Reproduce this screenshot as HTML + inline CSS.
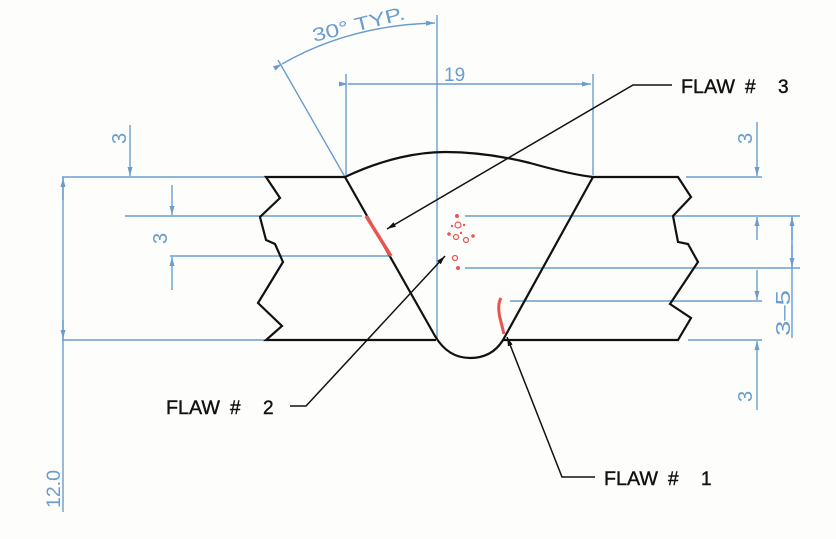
<!DOCTYPE html>
<html><head><meta charset="utf-8"><style>
html,body{margin:0;padding:0;background:#fdfdfb;}
svg{display:block}
</style></head><body>
<svg width="836" height="539" viewBox="0 0 836 539" xmlns="http://www.w3.org/2000/svg">
<defs>
<marker id="ab" markerWidth="10" markerHeight="6" refX="9" refY="3" orient="auto" markerUnits="userSpaceOnUse"><path d="M0,0.5 L9,3 L0,5.5 z" fill="#6a9dcf"/></marker>
<marker id="ak" markerWidth="10" markerHeight="6" refX="9" refY="3" orient="auto" markerUnits="userSpaceOnUse"><path d="M0,0.5 L9,3 L0,5.5 z" fill="#111"/></marker>
</defs>
<g stroke="#6a9dcf" stroke-width="1.4" fill="none">
<line x1="62" y1="177" x2="265" y2="177"/>
<line x1="686" y1="177" x2="762" y2="177"/>
<line x1="125" y1="216" x2="362" y2="216"/>
<line x1="465" y1="216" x2="800" y2="216"/>
<line x1="170" y1="256" x2="390" y2="256"/>
<line x1="465" y1="268" x2="800" y2="268"/>
<line x1="510" y1="301" x2="762" y2="301"/>
<line x1="62" y1="340" x2="265" y2="340"/>
<line x1="688" y1="340" x2="762" y2="340"/>
<line x1="437" y1="15" x2="437" y2="340"/>
<line x1="346" y1="74" x2="346" y2="175"/>
<line x1="593" y1="74" x2="593" y2="175"/>
<line x1="348" y1="84" x2="591" y2="84" marker-start="url(#ab)" marker-end="url(#ab)"/>
<line x1="345" y1="177" x2="278" y2="60"/>
<path d="M282,64 Q350,25 435,23" marker-start="url(#ab)" marker-end="url(#ab)"/>
<line x1="130" y1="125" x2="130" y2="176" marker-end="url(#ab)"/>
<line x1="172" y1="185" x2="172" y2="215" marker-end="url(#ab)"/>
<line x1="172" y1="290" x2="172" y2="257" marker-end="url(#ab)"/>
<line x1="63" y1="177" x2="63" y2="512"/>
<line x1="63" y1="200" x2="63" y2="178" marker-end="url(#ab)"/>
<line x1="63" y1="320" x2="63" y2="339" marker-end="url(#ab)"/>
<line x1="757" y1="122" x2="757" y2="176" marker-end="url(#ab)"/>
<line x1="757" y1="240" x2="757" y2="217" marker-end="url(#ab)"/>
<line x1="757" y1="270" x2="757" y2="300" marker-end="url(#ab)"/>
<line x1="757" y1="410" x2="757" y2="341" marker-end="url(#ab)"/>
<line x1="792" y1="216" x2="792" y2="338"/>
<line x1="792" y1="240" x2="792" y2="217" marker-end="url(#ab)"/>
<line x1="792" y1="245" x2="792" y2="267" marker-end="url(#ab)"/>
</g>
<g fill="#6a9dcf" font-family="Liberation Sans, sans-serif" font-size="20">
<text x="444" y="81" font-size="19">19</text>
<text transform="translate(314,42) rotate(-14)" font-size="19" textLength="95" lengthAdjust="spacingAndGlyphs">30° TYP.</text>
<text transform="translate(126,144) rotate(-90)">3</text>
<text transform="translate(167,244) rotate(-90)">3</text>
<text transform="translate(752,144) rotate(-90)">3</text>
<text transform="translate(752,402) rotate(-90)">3</text>
<text transform="translate(790,336) rotate(-90)" textLength="46" lengthAdjust="spacingAndGlyphs">3–5</text>
<text transform="translate(60,508) rotate(-90)" font-size="19" textLength="38" lengthAdjust="spacingAndGlyphs">12.0</text>
</g>
<g stroke="#111" stroke-width="2.2" fill="none" stroke-linejoin="miter">
<polyline points="345,177 266,177 280,198 260,217 266,240 275,244 283,262 258,303 282,326 266,340 436,340"/>
<polyline points="593,177 678,177 691,197 673,216 678,242 688,244 698,262 670,304 691,318 678,340 503,340"/>
<path d="M345,177 L435,336 Q448,358 470,358 Q492,358 503,340 L593,177"/>
<path d="M345,177 C385,158 420,152 445,152 C480,152 510,158 530,163 C555,170 575,175 593,177"/>
</g>
<g stroke="#e8554e" fill="none">
<line x1="366" y1="216" x2="391" y2="256" stroke-width="3.5"/>
<path d="M501,298 Q497,305 500,318 L504,334" stroke-width="3"/>
</g>
<g fill="none" stroke="#e8554e" stroke-width="1.2">
<circle cx="458" cy="225" r="3"/><circle cx="456" cy="237" r="2.5"/><circle cx="466" cy="240" r="2.5"/><circle cx="455" cy="258" r="2.5"/>
</g>
<g fill="#e8554e">
<circle cx="457" cy="216" r="2"/><circle cx="449" cy="234" r="1.8"/><circle cx="473" cy="236" r="1.8"/><circle cx="458" cy="268" r="2"/><circle cx="464" cy="225" r="1.2"/><circle cx="452" cy="226" r="1.2"/><circle cx="461" cy="233" r="1.2"/>
</g>
<g stroke="#111" stroke-width="1.5" fill="none">
<polyline points="672,85 633,85 387,229" marker-end="url(#ak)"/>
<polyline points="290,406 306,406 445,256" marker-end="url(#ak)"/>
<polyline points="595,477 562,477 507,337" marker-end="url(#ak)"/>
</g>
<g fill="#111" font-family="Liberation Sans, sans-serif" font-size="19" stroke="#111" stroke-width="0.4">
<text x="681" y="93" textLength="54" lengthAdjust="spacingAndGlyphs">FLAW</text><text x="745" y="93">#</text><text x="778" y="93">3</text>
<text x="166" y="414" textLength="54" lengthAdjust="spacingAndGlyphs">FLAW</text><text x="230" y="414">#</text><text x="263" y="414">2</text>
<text x="604" y="485" textLength="54" lengthAdjust="spacingAndGlyphs">FLAW</text><text x="668" y="485">#</text><text x="701" y="485">1</text>
</g>
</svg>
</body></html>
